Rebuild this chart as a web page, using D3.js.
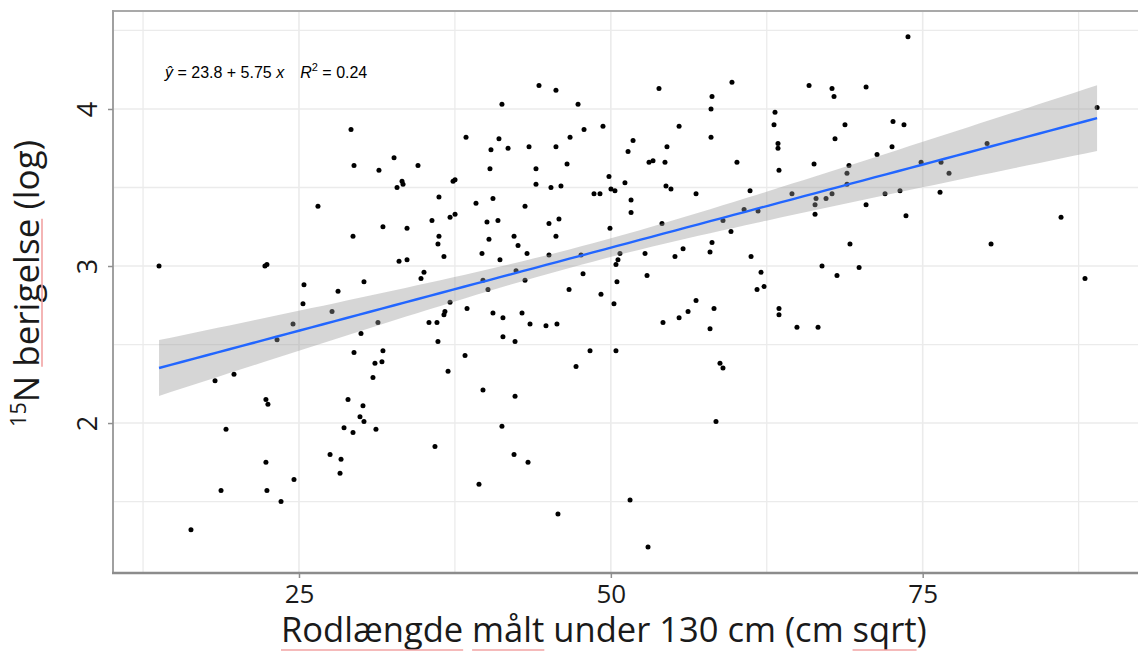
<!DOCTYPE html>
<html><head><meta charset="utf-8">
<script src="https://cdn.jsdelivr.net/npm/d3@7"></script>
<style>body{margin:0;background:#fff}</style></head>
<body><svg id="c" width="1138" height="653"></svg>
<script>
// ---------- data ----------
const rootLength = [
29.17,29.41,31.41,32.62,32.86,26.52,31.73,29.33,13.78,22.27,22.43,25.40,28.13,30.21,33.02,25.32,27.65,24.52,23.24,31.33,
29.97,29.41,31.73,31.09,31.65,30.93,18.27,19.79,22.35,22.51,28.93,30.13,29.89,30.21,19.15,28.61,29.33,31.17,27.49,28.37,
22.35,28.29,24.60,18.75,22.43,23.56,16.34,
34.54,33.26,33.34,36.22,37.35,37.51,38.39,41.27,44.24,45.60,47.37,47.85,49.37,51.78,51.38,53.06,40.39,41.03,41.76,43.44,
45.60,46.73,40.31,44.00,46.49,44.00,45.20,46.00,49.85,51.13,50.01,50.33,48.65,49.13,51.62,51.62,39.19,40.55,43.12,33.66,
35.66,37.11,37.51,40.07,40.95,45.04,45.84,36.22,36.14,36.62,40.23,42.24,42.56,45.60,49.93,39.67,41.11,43.28,45.04,47.61,
50.73,52.74,33.66,34.78,35.02,42.40,43.12,47.77,50.57,50.41,50.49,52.90,39.75,46.65,40.15,
49.21,50.25,37.11,38.47,36.70,36.62,40.55,41.35,42.88,43.52,44.80,45.68,35.42,36.06,36.14,41.35,42.32,38.31,36.95,48.33,
50.41,47.21,39.75,42.32,41.27,35.90,42.24,43.36,39.43,45.76,51.54,52.98,
53.38,53.86,55.47,54.50,54.34,54.42,54.82,56.83,58.11,58.03,59.71,58.03,60.11,61.16,60.68,61.80,58.99,59.63,54.10,58.11,
57.95,55.79,55.14,61.24,62.04,61.72,62.28,63.16,63.08,63.40,63.40,63.48,65.89,67.73,67.89,70.46,68.77,67.97,72.62,72.54,
71.34,66.29,69.09,68.93,68.93,64.52,66.45,67.25,67.73,66.37,66.37,70.46,71.98,73.18,69.17,66.93,68.13,69.90,
54.18,55.47,56.19,56.83,58.27,57.95,58.75,58.99,58.43,63.48,63.48,64.92,66.61,
73.82,73.50,74.87,76.47,77.11,76.39,73.66,80.16,86.09,80.48,88.98,88.01];
const enrichment = [
3.87,3.64,3.61,3.69,3.50,3.38,3.25,3.19,3.00,3.00,3.01,2.88,2.84,2.90,3.03,2.76,2.71,2.63,2.53,2.64,
2.57,2.45,2.46,2.38,2.39,2.29,2.27,2.31,2.15,2.12,2.15,2.11,2.04,2.01,1.96,1.97,1.94,1.96,1.80,1.77,
1.75,1.68,1.64,1.57,1.57,1.50,1.32,
3.64,3.54,3.52,3.44,3.54,3.55,3.82,4.03,4.15,4.12,4.03,3.87,3.89,3.80,3.73,3.66,3.74,3.81,3.75,3.76,
3.76,3.82,3.62,3.62,3.65,3.52,3.50,3.51,3.57,3.53,3.49,3.48,3.46,3.46,3.42,3.34,3.40,3.43,3.38,3.24,
3.29,3.31,3.33,3.28,3.29,3.27,3.30,3.19,3.14,3.06,3.17,3.19,3.13,3.19,3.24,3.08,3.04,3.08,3.07,3.07,
3.08,3.08,3.04,2.92,2.96,2.97,2.91,2.95,3.04,3.01,2.90,2.94,2.91,2.85,2.85,
2.82,2.76,2.77,2.73,2.71,2.69,2.70,2.67,2.70,2.63,2.62,2.63,2.64,2.64,2.52,2.55,2.52,2.43,2.33,2.46,
2.46,2.36,2.21,2.17,1.98,1.85,1.80,1.75,1.61,1.42,1.51,1.21,
3.67,4.13,3.89,3.76,3.66,3.51,3.49,3.46,4.08,4.00,4.17,3.82,3.66,3.48,3.36,3.35,3.29,3.22,3.27,3.15,
3.09,3.11,3.06,3.06,2.96,2.85,2.87,3.98,3.90,3.78,3.75,3.61,4.15,4.13,4.08,4.14,3.90,3.81,3.92,3.76,
3.71,3.65,3.64,3.59,3.52,3.46,3.43,3.43,3.46,3.39,3.33,3.39,3.46,3.48,3.14,3.00,2.94,2.99,
2.64,2.67,2.71,2.78,2.73,2.60,2.38,2.35,2.01,2.73,2.69,2.61,2.61,
4.46,3.90,3.66,3.66,3.59,3.47,3.32,3.78,3.31,3.14,4.01,2.92];

const xTicks = [25, 50, 75];
const xMinorTicks = [12.5, 37.5, 62.5, 87.5];
const yTicks = [2, 3, 4];
const yMinorTicks = [1.5, 2.5, 3.5, 4.5];
const xDomain = [10.09, 92.26];
const yDomain = [1.045, 4.624];

// fitted line and its 95% band
const fitIntercept = 2.059, fitSlope = 0.02116;
const ciHalfMin = 0.0586, ciSpread = 0.0049, ciCentre = 48;

const xTitle = "Rodlængde målt under 130 cm (cm sqrt)";
const yTitleSup = "15", yTitleMain = "N berigelse (log)";
const eqIntercept = "23.8", eqSlope = "5.75", eqR2 = "0.24";

// ---------- drawing ----------
const svg = d3.select("#c");
svg.append("rect").attr("width",1138).attr("height",653).attr("fill","#fff");
const L = 113, R = 1138, T = 11, B = 573;
const x = d3.scaleLinear().domain(xDomain).range([L, R]);
const y = d3.scaleLinear().domain(yDomain).range([B, T]);

const grid = svg.append("g");
[...xMinorTicks, ...xTicks].forEach(v => grid.append("line")
  .attr("x1", x(v)).attr("x2", x(v)).attr("y1", T).attr("y2", B)
  .attr("stroke", "#ebebeb").attr("stroke-width", xTicks.includes(v) ? 1.6 : 1.3));
[...yMinorTicks, ...yTicks].forEach(v => grid.append("line")
  .attr("y1", y(v)).attr("y2", y(v)).attr("x1", L).attr("x2", R)
  .attr("stroke", "#ebebeb").attr("stroke-width", yTicks.includes(v) ? 1.6 : 1.3));

const pts = rootLength.map((v, i) => ({x: v, y: enrichment[i]}));
svg.append("g").selectAll("circle").data(pts).join("circle")
  .attr("cx", d => x(d.x)).attr("cy", d => y(d.y)).attr("r", 2.5).attr("fill", "#000");

const [xmin, xmax] = d3.extent(rootLength);
const fitX = d3.range(0, 81).map(i => xmin + (xmax - xmin) * i / 80);
const fitY = v => fitIntercept + fitSlope * v;
const half = v => Math.sqrt(ciHalfMin * ciHalfMin + ciSpread * ciSpread * (v - ciCentre) * (v - ciCentre));
svg.append("path").datum(fitX)
  .attr("d", d3.area().x(v => x(v)).y0(v => y(fitY(v) - half(v))).y1(v => y(fitY(v) + half(v))))
  .attr("fill", "#999").attr("fill-opacity", 0.4);
svg.append("path").datum(fitX)
  .attr("d", d3.line().x(v => x(v)).y(v => y(fitY(v))))
  .attr("fill", "none").attr("stroke", "#2266FF").attr("stroke-width", 2.4);

// border
svg.append("line").attr("x1", L).attr("x2", R + 5).attr("y1", T).attr("y2", T).attr("stroke", "#a9a9a9").attr("stroke-width", 2);
svg.append("line").attr("x1", L).attr("x2", L).attr("y1", T - 1).attr("y2", B).attr("stroke", "#a0a0a0").attr("stroke-width", 2);

// axes
const xAxis = svg.append("g").attr("transform", `translate(0,${B})`)
  .call(d3.axisBottom(x).tickValues(xTicks).tickSize(5).tickPadding(6.5).tickFormat(d3.format("d")));
xAxis.select(".domain").remove();
xAxis.selectAll("line").attr("stroke", "#8f8f8f").attr("stroke-width", 1.5);
xAxis.selectAll("text").attr("font-family", "Open Sans").attr("font-size", 26).attr("fill", "#1a1a1a");
svg.append("line").attr("x1", L - 1).attr("x2", R + 5).attr("y1", B).attr("y2", B).attr("stroke", "#8c8c8c").attr("stroke-width", 2.5);

const yAxis = svg.append("g").attr("transform", `translate(${L},0)`)
  .call(d3.axisLeft(y).tickValues(yTicks).tickSize(5).tickFormat(d3.format("d")));
yAxis.select(".domain").remove();
yAxis.selectAll("line").attr("stroke", "#8f8f8f").attr("stroke-width", 1.5);
yAxis.selectAll("text").attr("x", null).attr("dy", null)
  .attr("transform", "translate(-16,0) rotate(-90)").attr("text-anchor", "middle")
  .attr("font-family", "Open Sans").attr("font-size", 27).attr("fill", "#1a1a1a");

// equation label
const eq = svg.append("text").attr("x", 165).attr("y", 78)
  .attr("font-family", "Liberation Sans, Arial, sans-serif").attr("font-size", 16).attr("fill", "#000");
eq.append("tspan").attr("font-style", "italic").text("ŷ");
eq.append("tspan").text(` = ${eqIntercept} + ${eqSlope} `);
eq.append("tspan").attr("font-style", "italic").text("x");
eq.append("tspan").attr("font-style", "italic").attr("dx", 16).text("R");
eq.append("tspan").attr("font-size", 11).attr("dy", -7).text("2");
eq.append("tspan").attr("dy", 7).text(` = ${eqR2}`);

// axis titles
function fit(sel, target) {
  const w = sel.node().getComputedTextLength();
  const k = target / w;
  sel.attr("font-size", parseFloat(sel.attr("font-size")) * k);
  sel.selectAll("tspan").each(function() {
    const t = d3.select(this);
    if (t.attr("font-size")) t.attr("font-size", parseFloat(t.attr("font-size")) * k);
    if (t.attr("dy")) t.attr("dy", parseFloat(t.attr("dy")) * k);
  });
}
const xt = svg.append("text").attr("x", 281).attr("y", 642)
  .attr("font-family", "Open Sans").attr("font-size", 34.5).attr("fill", "#1a1a1a").text(xTitle);
fit(xt, 646);
function underline(textSel, g, from, to, off) {
  const n = textSel.node();
  const a = n.getStartPositionOfChar(from), b = n.getEndPositionOfChar(to);
  g.append("line").attr("x1", a.x).attr("x2", b.x).attr("y1", a.y + off).attr("y2", a.y + off)
    .attr("stroke", "#f2a3a3").attr("stroke-width", 1.6);
}
underline(xt, svg, 0, 8, 8);
underline(xt, svg, 10, 13, 8);
underline(xt, svg, 32, 35, 8);

const yg = svg.append("g").attr("transform", "translate(39,283.5) rotate(-90)");
const yt = yg.append("text").attr("text-anchor", "middle")
  .attr("font-family", "Open Sans").attr("font-size", 34).attr("fill", "#1a1a1a");
yt.append("tspan").attr("font-size", 21).attr("dy", -13).text(yTitleSup);
yt.append("tspan").attr("dy", 13).text(yTitleMain);
fit(yt, 287);
underline(yt, yg, 4, 12, 3);
</script></body></html>
